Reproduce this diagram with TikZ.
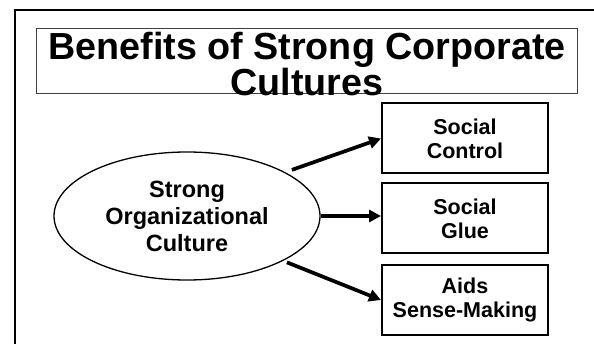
\documentclass[tikz,border=0pt]{standalone}
\usepackage{fontspec}
\setmainfont{Liberation Sans}
\usepackage{tikz}
\usetikzlibrary{positioning, arrows.meta, shapes.geometric}

\begin{document}
\begin{tikzpicture}[
    x=1pt, y=-1pt,
    titlebox/.style={rectangle, draw=black!75, line width=1pt, minimum width=541pt, minimum height=65pt, inner sep=0pt},
    titletext/.style={align=center, inner sep=0pt, font=\fontsize{37.7}{33}\selectfont\bfseries},
    culture/.style={ellipse, draw=black, line width=1.3pt, minimum width=266pt, minimum height=128pt, inner sep=0pt, align=center, font=\fontsize{23.5}{27}\selectfont\bfseries},
    benefit/.style={rectangle, draw=black, line width=2pt, minimum width=166pt, minimum height=70pt, inner sep=0pt, align=center, font=\fontsize{21.5}{24}\selectfont\bfseries},
    arrow/.style={-{Triangle[length=12pt, width=12pt]}, draw=black, line width=3.7pt}
]
    \useasboundingbox (0,0) rectangle (594,344);

    % Slide frame
    \draw [line width=1.7pt] (15,344) -- (15,10) -- (594,10);

    % Title
    \node (tbox) at (306.5,61.5) [titlebox] {};
    \node (title) at (307,64) [titletext] {Benefits of Strong Corporate\\Cultures};

    % Source ellipse
    \node (org) at (187,216) [culture] {Strong\\Organizational\\Culture};

    % Benefit boxes
    \node (ctrl) at (465,138.5) [benefit] {Social\\Control};
    \node (glue) at (465,218.5) [benefit] {Social\\Glue};
    \node (sense) at (465,300) [benefit] {Aids\\Sense-Making};

    % Arrows
    \draw [arrow, shorten <=7pt] (org.24) -- (ctrl.west);
    \draw [arrow] (org.east) -- (org.east -| glue.west);
    \draw [arrow, shorten <=4pt] (org.-25) -- (sense.west);

\end{tikzpicture}
\end{document}
